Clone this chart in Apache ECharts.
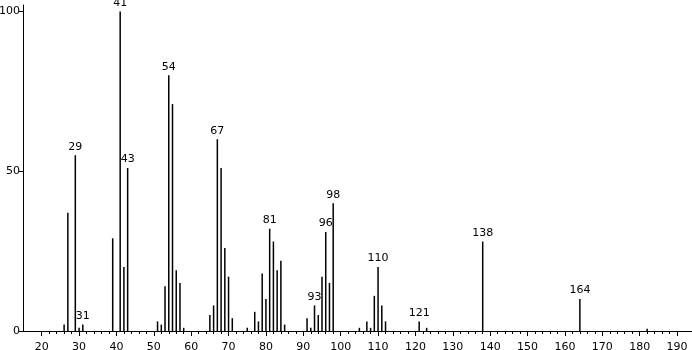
<!DOCTYPE html>
<html>
<head>
<meta charset="utf-8">
<script src="https://cdn.jsdelivr.net/npm/echarts@6/dist/echarts.min.js"></script>
<style>html,body{margin:0;padding:0;background:#fff}#c{width:692px;height:350px}</style>
</head>
<body>
<div id="c"></div>
<script>
const masses      = [26, 27, 29, 30, 31, 39, 41, 42, 43, 51, 52, 53, 54, 55, 56, 57, 58, 65, 66, 67, 68, 69, 70, 71, 75, 77, 78, 79, 80, 81, 82, 83, 84, 85, 91, 92, 93, 94, 95, 96, 97, 98, 105, 107, 108, 109, 110, 111, 112, 121, 123, 138, 164, 182];
const intensities = [2, 37, 55, 1, 2, 29, 100, 20, 51, 3, 2, 14, 80, 71, 19, 15, 1, 5, 8, 60, 51, 26, 17, 4, 1, 6, 3, 18, 10, 32, 28, 19, 22, 2, 4, 1, 8, 5, 17, 31, 15, 40, 1, 3, 1, 11, 20, 8, 3, 3, 1, 28, 10, 0.7];
const labeledPeaks = [29, 31, 41, 43, 54, 67, 81, 93, 96, 98, 110, 121, 138, 164];
const xMajorTicks = [20, 30, 40, 50, 60, 70, 80, 90, 100, 110, 120, 130, 140, 150, 160, 170, 180, 190];
const xMinorTicks = [22, 24, 26, 28, 32, 34, 36, 38, 42, 44, 46, 48, 52, 54, 56, 58, 62, 64, 66, 68, 72, 74, 76, 78, 82, 84, 86, 88, 92, 94, 96, 98, 102, 104, 106, 108, 112, 114, 116, 118, 122, 124, 126, 128, 132, 134, 136, 138, 142, 144, 146, 148, 152, 154, 156, 158, 162, 164, 166, 168, 172, 174, 176, 178, 182, 184, 186, 188];
const yTicks = [0, 50, 100];

const font = 'DejaVu Sans';
const data = masses.map((m, i) => {
  const item = { value: [m, intensities[i]] };
  if (labeledPeaks.includes(m)) item.label = { show: true };
  return item;
});

const chart = echarts.init(document.getElementById('c'), null, { renderer: 'canvas' });
chart.setOption({
  animation: false,
  backgroundColor: '#fff',
  grid: { left: 23, right: 0, top: 5, bottom: 19, containLabel: false, outerBoundsMode: 'none' },
  xAxis: [
    {
      type: 'value', min: 15, max: 194,
      axisLine: { show: true, onZero: false, lineStyle: { color: '#000', width: 1 } },
      axisTick: { show: true, customValues: xMajorTicks, length: 5, lineStyle: { color: '#000' } },
      axisLabel: { show: true, customValues: xMajorTicks, margin: 11, color: '#000', fontFamily: font, fontSize: 11 },
      splitLine: { show: false }
    },
    {
      type: 'value', min: 15, max: 194, position: 'bottom',
      axisLine: { show: false },
      axisTick: { show: true, customValues: xMinorTicks, length: 3, lineStyle: { color: '#000' } },
      axisLabel: { show: false },
      splitLine: { show: false }
    }
  ],
  yAxis: {
    type: 'value', min: 0, max: 102,
    axisLine: { show: true, lineStyle: { color: '#000', width: 1 } },
    axisTick: { show: true, customValues: yTicks, length: 4, lineStyle: { color: '#000' } },
    axisLabel: { show: true, customValues: yTicks, margin: 3, color: '#000', fontFamily: font, fontSize: 11 },
    splitLine: { show: false }
  },
  series: [{
    type: 'bar',
    xAxisIndex: 0,
    barWidth: 1.5,
    itemStyle: { color: '#000' },
    label: { show: false, position: 'top', distance: 3, color: '#000', fontFamily: font, fontSize: 11, formatter: p => String(p.value[0]) },
    data: data
  }]
});
</script>
</body>
</html>
